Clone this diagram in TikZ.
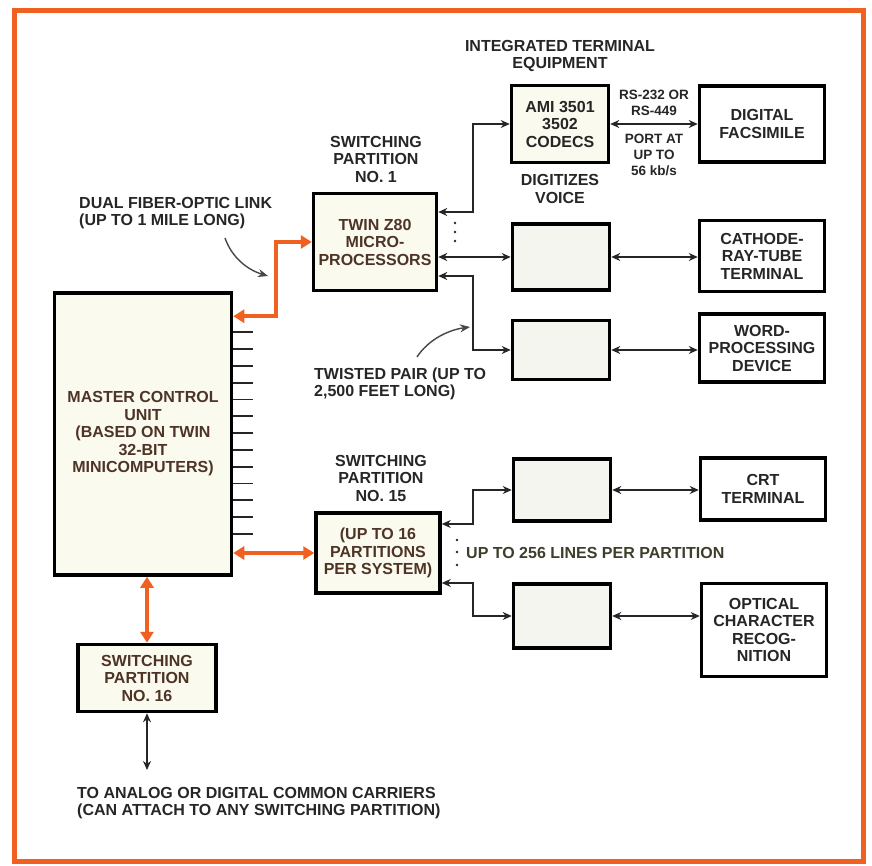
\documentclass[tikz,border=0pt]{standalone}
\usepackage{fontspec}
\setmainfont{Liberation Sans}
\usepackage{xcolor}
\usetikzlibrary{arrows.meta,calc}
\definecolor{fiber}{RGB}{240,96,32}
\definecolor{cream}{RGB}{251,250,239}
\definecolor{pale}{RGB}{245,245,240}
\definecolor{ink}{RGB}{38,38,38}
\definecolor{umber}{RGB}{78,52,38}
\definecolor{olivetxt}{RGB}{62,62,42}

\begin{document}
\begin{tikzpicture}[x=1pt, y=-1pt,
  blk/.style={draw, line width=3.5pt, align=center, inner sep=0pt, text=ink,
              font=\fontsize{16}{17.5}\selectfont\bfseries},
  ctl/.style={blk, fill=cream, text=umber},
  dev/.style={blk, fill=white, minimum width=125pt},
  emp/.style={blk, fill=pale, minimum width=97pt},
  lbl/.style={align=center, inner sep=0pt, text=ink, font=\fontsize{16}{17.5}\selectfont\bfseries},
  sml/.style={lbl, font=\fontsize{13.5}{16}\selectfont\bfseries},
  tw/.style={{Stealth[length=9pt,width=8pt]}-{Stealth[length=9pt,width=8pt]}, line width=1.7pt, ink},
  fib/.style={{Triangle[length=11pt,width=13pt]}-{Triangle[length=11pt,width=13pt]}, line width=4pt, fiber},
  note/.style={-{Stealth[length=10pt,width=8pt]}, line width=1.4pt, ink!85}
]
\useasboundingbox (0,0) rectangle (872,866);
\draw[fiber, line width=5pt] (14,11) rectangle (863,861);

\node[ctl, minimum width=177pt, minimum height=282pt] (mcu) at (143,434) {MASTER CONTROL\\UNIT\\(BASED ON TWIN\\32-BIT\\MINICOMPUTERS)};
\node[ctl, minimum width=123pt, minimum height=97pt] (sp1) at (375,242) {TWIN Z80\\MICRO-\\PROCESSORS};
\node[ctl, minimum width=97pt, minimum height=77pt, text=ink] (codec) at (560,124) {AMI 3501\\3502\\CODECS};
\node[dev, minimum height=76pt] (fax) at (762,124) {DIGITAL\\FACSIMILE};
\node[emp, minimum height=66pt] (ln2) at (561,257) {};
\node[dev, minimum height=71pt] (crt) at (762,256) {CATHODE-\\RAY-TUBE\\TERMINAL};
\node[emp, minimum height=59pt] (ln3) at (561,350) {};
\node[dev, minimum height=68pt] (wp) at (762,348) {WORD-\\PROCESSING\\DEVICE};
\node[emp, minimum height=62pt] (ln4) at (562,490) {};
\node[dev, minimum height=62pt] (term) at (763,489) {CRT\\TERMINAL};
\node[emp, minimum height=64pt] (ln5) at (562,616) {};
\node[dev, minimum height=93pt] (ocr) at (764,630) {OPTICAL\\CHARACTER\\RECOG-\\NITION};
\node[ctl, minimum width=124pt, minimum height=80pt] (sp15) at (378,553) {(UP TO 16\\PARTITIONS\\PER SYSTEM)};
\node[ctl, minimum width=138pt, minimum height=67pt] (sp16) at (147,678) {SWITCHING\\PARTITION\\NO. 16};

\node[lbl] (ite) at (560,56) {INTEGRATED TERMINAL\\EQUIPMENT};
\node[sml] (rs) at (654,103) {RS-232 OR\\RS-449};
\node[sml] (port) at (654,155) {PORT AT\\UP TO\\56 kb/s};
\node[lbl] (dig) at (560,189) {DIGITIZES\\VOICE};
\node[lbl] (sp1lbl) at (376,159) {SWITCHING\\PARTITION\\NO. 1};
\node[lbl, anchor=west, align=left] (fol) at (79,213) {DUAL FIBER-OPTIC LINK\\(UP TO 1 MILE LONG)};
\node[lbl, anchor=west, align=left] (tp) at (314,384) {TWISTED PAIR (UP TO\\2,500 FEET LONG)};
\node[lbl] (sp15lbl) at (381,478) {SWITCHING\\PARTITION\\NO. 15};
\node[lbl, anchor=west, text=olivetxt] (lines) at (466,553) {UP TO 256 LINES PER PARTITION};
\node[lbl, anchor=west, align=left] (carrlbl) at (77,803) {TO ANALOG OR DIGITAL COMMON CARRIERS\\(CAN ATTACH TO ANY SWITCHING PARTITION)};

\draw[tw] ([yshift=30pt]sp1.east) -- ++(35,0) |- (codec.west);
\draw[tw] (ln2.west) -- (ln2.west -| sp1.east);
\draw[tw] ([yshift=-34pt]sp1.east) -- ++(35,0) |- (ln3.west);
\draw[tw] (codec.east) -- (fax.west);
\draw[tw] (ln2.east) -- (ln2.east -| crt.west);
\draw[tw] (ln3.east) -- (ln3.east -| wp.west);
\draw[tw] (ln4.east) -- (ln4.east -| term.west);
\draw[tw] (ln5.east) -- (ln5.east -| ocr.west);
\draw[tw] ([yshift=29pt]sp15.east) -- ++(31,0) |- (ln4.west);
\draw[tw] ([yshift=-30pt]sp15.east) -- ++(31,0) |- (ln5.west);

\draw[fib] ([yshift=-25pt]mcu.north east) -- ++(43,0) |- (sp1.west);
\draw[fib] (sp15.west) -- (sp15.west -| mcu.east);
\draw[fib] (sp16.north) -- (sp16.north |- mcu.south);

\coordinate (carr) at (149,770);
\draw[tw] (sp16.south) -- (sp16.south |- carr);

\foreach \i in {0,...,12}
  \draw[line width=1.8pt, ink] ([yshift={-(41+\i*16.8)*1pt}]mcu.north east) -- ++(20,0);

\foreach \y in {223,232,241}
  \fill[ink] (455,\y) circle (1.3pt);
\foreach \y in {540,552,565}
  \fill[ink] (457,\y) circle (1.3pt);

\coordinate (f0) at (225,238);
\coordinate (f1) at (268,276);
\draw[note] (f0) .. controls (232,258) and (248,270) .. (f1);
\coordinate (t0) at (417,357);
\coordinate (t1) at (470,327);
\draw[note] (t0) .. controls (428,340) and (448,330) .. (t1);
\end{tikzpicture}
\end{document}
